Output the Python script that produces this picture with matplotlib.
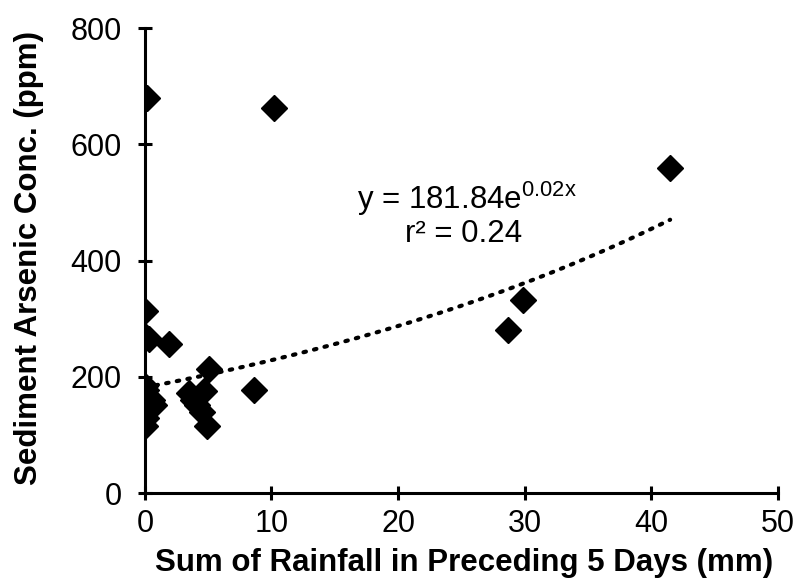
import numpy as np
import matplotlib
matplotlib.use("Agg")
import matplotlib.pyplot as plt

plt.rcParams['font.family'] = ['Liberation Sans', 'DejaVu Sans']
plt.rcParams['mathtext.fontset'] = 'custom'
plt.rcParams['mathtext.rm'] = 'Liberation Sans'
plt.rcParams['mathtext.it'] = 'Liberation Sans'
plt.rcParams['mathtext.default'] = 'regular'

rainfall = [0.2, 10.2, 41.5, 29.9, 28.7, 8.6, 5.1, 1.9, 0.0, 0.0, 0.3,
            0.0, 0.1, 0.0, 0.2, 0.6, 0.3, 0.7, 0.0, 0.1, 0.0,
            3.5, 4.7, 4.1, 4.5, 4.9, 3.8]
arsenic = [680, 662, 559, 332, 280, 177, 213, 257, 313, 270, 265,
           185, 178, 170, 165, 160, 150, 152, 140, 130, 115,
           172, 176, 152, 139, 116, 160]

fit_a = 181.84
fit_b = 0.0229
eq_text = r'y = 181.84e$^{0.02x}$'
r2_text = 'r² = 0.24'

fig = plt.figure(figsize=(7.96, 5.87), dpi=100)
ax = fig.add_axes([0.182, 0.160, 0.795, 0.792])

ax.plot(rainfall, arsenic, linestyle='none', marker='D', markersize=13,
        color='black', zorder=3)

xf = np.linspace(min(rainfall), max(rainfall), 200)
ax.plot(xf, fit_a * np.exp(fit_b * xf), linestyle=(0, (0.6, 2.0)),
        dash_capstyle='round', linewidth=3, color='black', zorder=2)

ax.set_xlim(0, 50)
ax.set_ylim(0, 800)
ax.set_xticks([0, 10, 20, 30, 40, 50])
ax.set_yticks([0, 200, 400, 600, 800])
for s in ['top', 'right']:
    ax.spines[s].set_visible(False)
for s in ['left', 'bottom']:
    ax.spines[s].set_linewidth(2.2)
ax.tick_params(direction='inout', length=10, width=2.2, labelsize=22)
ax.tick_params(axis='x', pad=6.5)
ax.tick_params(axis='y', pad=11.5)

ax.set_xlabel('Sum of Rainfall in Preceding 5 Days (mm)', fontsize=22.5,
              fontweight='bold')
ax.set_ylabel('Sediment Arsenic Conc. (ppm)', fontsize=22.5,
              fontweight='bold')
ax.xaxis.set_label_coords(0.505, -0.118)
ax.yaxis.set_label_coords(-0.16, 0.505)

ax.text(25.47, 488, eq_text, fontsize=22.5, ha='center', va='baseline')
ax.text(25.16, 432, r2_text, fontsize=22.5, ha='center', va='baseline')

fig.savefig('out.png', dpi=100)
